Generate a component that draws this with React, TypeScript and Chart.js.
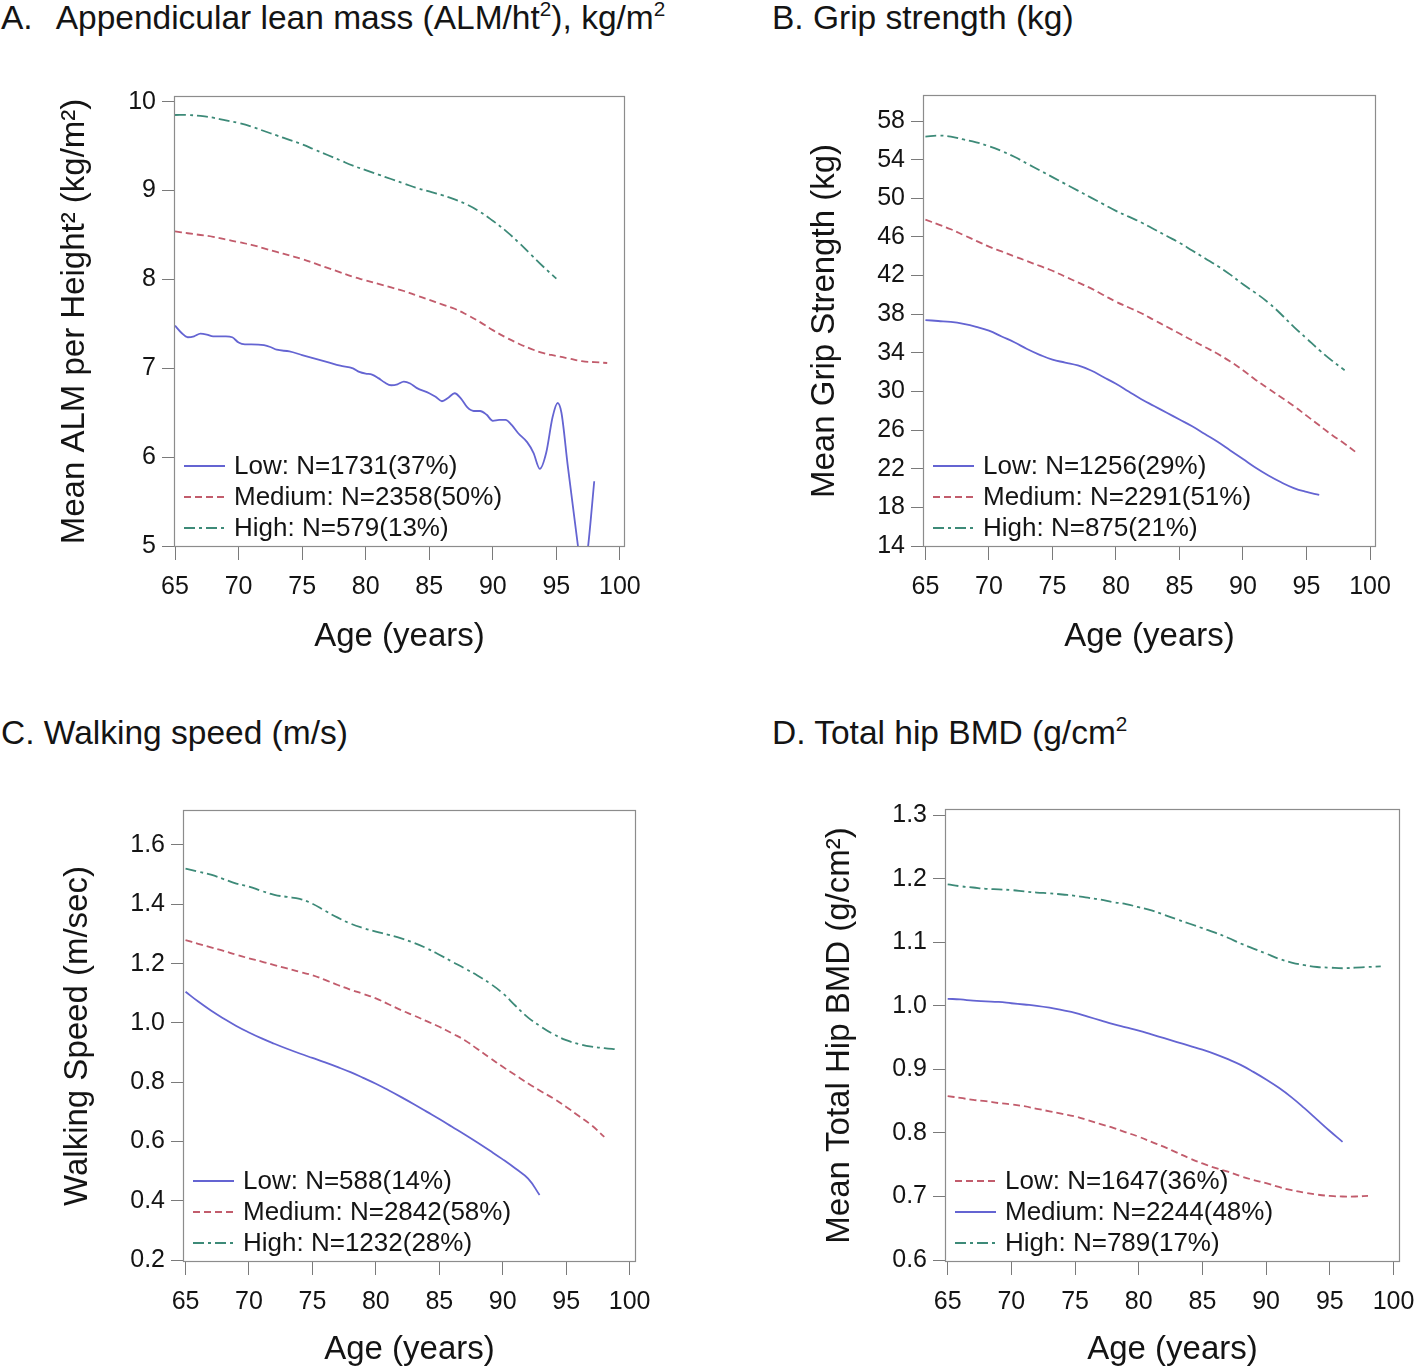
import React, { useEffect, useRef } from "react";
import { Chart, registerables } from "chart.js";

Chart.register(...registerables);

const FONT = '"Liberation Sans", Arial, Helvetica, sans-serif';
const INK = "#141414";

// ---------- shared axis ----------
const ageTicks = [65, 70, 75, 80, 85, 90, 95, 100];

// ---------- A. Appendicular lean mass ----------
const aYTicks = [5, 6, 7, 8, 9, 10];
const aLowAge = [65, 65.5, 66, 66.5, 67, 67.5, 68, 69, 69.5, 70, 70.5, 71, 72, 72.5, 73, 74, 75, 76, 77, 78, 79, 79.5, 80, 80.5, 81, 81.5, 82, 82.5, 83, 83.5, 84, 85, 85.5, 86, 86.5, 87, 87.5, 88, 88.5, 89, 89.5, 90, 90.5, 91, 91.5, 92, 92.7, 93.2, 93.7, 94.2, 94.7, 95.1, 95.4, 95.9, 96.7, 97.1, 97.5, 97.98];
const aLowVal = [7.48, 7.4, 7.35, 7.36, 7.39, 7.38, 7.36, 7.36, 7.35, 7.29, 7.27, 7.27, 7.26, 7.24, 7.21, 7.19, 7.15, 7.11, 7.07, 7.03, 7.0, 6.96, 6.94, 6.93, 6.89, 6.84, 6.81, 6.82, 6.85, 6.83, 6.78, 6.72, 6.68, 6.63, 6.67, 6.72, 6.66, 6.56, 6.52, 6.52, 6.48, 6.41, 6.42, 6.42, 6.36, 6.27, 6.17, 6.05, 5.87, 6.05, 6.45, 6.61, 6.5, 5.9, 5.0, 4.6, 5.0, 5.73];
const aMedAge = [65, 66, 67, 68, 69, 70, 71, 72, 73, 74, 75, 76, 77, 78, 79, 80, 81, 82, 83, 84, 85, 86, 87, 88, 89, 90, 91, 92, 93, 94, 95, 96, 97, 98, 99];
const aMedVal = [8.54, 8.52, 8.5, 8.48, 8.45, 8.42, 8.39, 8.35, 8.31, 8.27, 8.23, 8.18, 8.13, 8.08, 8.03, 7.99, 7.95, 7.91, 7.87, 7.82, 7.77, 7.72, 7.67, 7.6, 7.52, 7.43, 7.35, 7.28, 7.22, 7.17, 7.14, 7.11, 7.08, 7.07, 7.06];
const aHighAge = [65, 66, 67, 68, 69, 70, 71, 72, 73, 74, 75, 76, 77, 78, 79, 80, 81, 82, 83, 84, 85, 86, 87, 88, 89, 90, 91, 92, 93, 94, 95];
const aHighVal = [9.85, 9.85, 9.84, 9.82, 9.79, 9.76, 9.72, 9.67, 9.62, 9.57, 9.52, 9.46, 9.4, 9.34, 9.28, 9.23, 9.18, 9.13, 9.08, 9.03, 8.99, 8.95, 8.9, 8.84, 8.76, 8.66, 8.55, 8.42, 8.28, 8.14, 8.01];

// ---------- B. Grip strength ----------
const bYTicks = [14, 18, 22, 26, 30, 34, 38, 42, 46, 50, 54, 58];
const bLowAge = [65, 66, 67, 68, 69, 70, 71, 72, 73, 74, 75, 76, 77, 78, 79, 80, 81, 82, 83, 84, 85, 86, 87, 88, 89, 90, 91, 92, 93, 94, 95, 96];
const bLowVal = [37.4, 37.3, 37.2, 37.0, 36.7, 36.3, 35.7, 35.1, 34.4, 33.8, 33.3, 33.0, 32.7, 32.2, 31.5, 30.8, 30.0, 29.2, 28.5, 27.8, 27.1, 26.4, 25.6, 24.8, 23.9, 23.0, 22.1, 21.3, 20.6, 20.0, 19.6, 19.3];
const bMedAge = [65, 66, 67, 68, 69, 70, 71, 72, 73, 74, 75, 76, 77, 78, 79, 80, 81, 82, 83, 84, 85, 86, 87, 88, 89, 90, 91, 92, 93, 94, 95, 96, 97, 98, 99];
const bMedVal = [47.8, 47.3, 46.8, 46.2, 45.6, 45.0, 44.5, 44.0, 43.5, 43.0, 42.5, 41.9, 41.3, 40.7, 40.0, 39.3, 38.7, 38.1, 37.4, 36.7, 36.0, 35.3, 34.6, 33.9, 33.1, 32.2, 31.2, 30.3, 29.4, 28.5, 27.5, 26.5, 25.5, 24.6, 23.6];
const bHighAge = [65, 66, 67, 68, 69, 70, 71, 72, 73, 74, 75, 76, 77, 78, 79, 80, 81, 82, 83, 84, 85, 86, 87, 88, 89, 90, 91, 92, 93, 94, 95, 96, 97, 98];
const bHighVal = [56.4, 56.5, 56.4, 56.1, 55.8, 55.4, 54.9, 54.3, 53.6, 52.9, 52.2, 51.5, 50.8, 50.1, 49.4, 48.7, 48.1, 47.5, 46.8, 46.1, 45.4, 44.6, 43.8, 43.0, 42.1, 41.1, 40.2, 39.2, 38.0, 36.7, 35.5, 34.3, 33.2, 32.2];

// ---------- C. Walking speed ----------
const cYTicks = [0.2, 0.4, 0.6, 0.8, 1.0, 1.2, 1.4, 1.6];
const cLowAge = [65, 66, 67, 68, 69, 70, 71, 72, 73, 74, 75, 76, 77, 78, 79, 80, 81, 82, 83, 84, 85, 86, 87, 88, 89, 90, 91, 92, 92.9];
const cLowVal = [1.105, 1.072, 1.042, 1.015, 0.99, 0.968, 0.948, 0.93, 0.913, 0.897, 0.882, 0.867, 0.851, 0.834, 0.815, 0.795, 0.773, 0.75, 0.726, 0.701, 0.676, 0.65, 0.624, 0.597, 0.569, 0.54, 0.509, 0.475, 0.42];
const cMedAge = [65, 66, 67, 68, 69, 70, 71, 72, 73, 74, 75, 76, 77, 78, 79, 80, 81, 82, 83, 84, 85, 86, 87, 88, 89, 90, 91, 92, 93, 94, 95, 96, 97, 98];
const cMedVal = [1.279, 1.267, 1.255, 1.243, 1.23, 1.218, 1.207, 1.195, 1.184, 1.172, 1.161, 1.145, 1.128, 1.112, 1.098, 1.083, 1.063, 1.043, 1.025, 1.006, 0.987, 0.965, 0.942, 0.912, 0.882, 0.852, 0.824, 0.796, 0.77, 0.745, 0.717, 0.686, 0.655, 0.616];
const cHighAge = [65, 66, 67, 68, 69, 70, 71, 72, 73, 74, 75, 76, 77, 78, 79, 80, 81, 82, 83, 84, 85, 86, 87, 88, 89, 90, 91, 92, 93, 94, 95, 96, 97, 98, 99];
const cHighVal = [1.52, 1.51, 1.5, 1.485, 1.47, 1.46, 1.445, 1.432, 1.425, 1.418, 1.402, 1.378, 1.355, 1.335, 1.32, 1.308, 1.297, 1.285, 1.27, 1.252, 1.23, 1.207, 1.184, 1.16, 1.133, 1.1, 1.058, 1.018, 0.988, 0.962, 0.942, 0.929, 0.92, 0.915, 0.911];

// ---------- D. Total hip BMD ----------
const dYTicks = [0.6, 0.7, 0.8, 0.9, 1.0, 1.1, 1.2, 1.3];
const dLowAge = [65, 66, 67, 68, 69, 70, 71, 72, 73, 74, 75, 76, 77, 78, 79, 80, 81, 82, 83, 84, 85, 86, 87, 88, 89, 90, 91, 92, 93, 94, 95, 96, 97, 98];
const dLowVal = [0.858, 0.855, 0.852, 0.85, 0.847, 0.845, 0.842, 0.838, 0.834, 0.83, 0.826, 0.82, 0.814, 0.808, 0.801, 0.794, 0.786, 0.778, 0.769, 0.76, 0.752, 0.745, 0.739, 0.732, 0.726, 0.721, 0.715, 0.71, 0.706, 0.703, 0.701, 0.7, 0.7, 0.701];
const dMedAge = [65, 66, 67, 68, 69, 70, 71, 72, 73, 74, 75, 76, 77, 78, 79, 80, 81, 82, 83, 84, 85, 86, 87, 88, 89, 90, 91, 92, 93, 94, 95, 96];
const dMedVal = [1.011, 1.01, 1.008, 1.007, 1.006, 1.004, 1.002, 1.0, 0.997, 0.993, 0.989, 0.983, 0.977, 0.971, 0.966, 0.961, 0.955, 0.949, 0.943, 0.937, 0.931, 0.924, 0.916, 0.907, 0.896, 0.884, 0.871, 0.856, 0.839, 0.821, 0.803, 0.786];
const dHighAge = [65, 66, 67, 68, 69, 70, 71, 72, 73, 74, 75, 76, 77, 78, 79, 80, 81, 82, 83, 84, 85, 86, 87, 88, 89, 90, 91, 92, 93, 94, 95, 96, 97, 98, 99];
const dHighVal = [1.191, 1.188, 1.186, 1.184, 1.183, 1.182, 1.18, 1.178, 1.177, 1.175, 1.173, 1.17, 1.167, 1.163, 1.16, 1.155, 1.15, 1.143, 1.136, 1.129, 1.122, 1.115, 1.107, 1.098, 1.09, 1.082, 1.074, 1.068, 1.064, 1.061, 1.06, 1.059, 1.06, 1.061, 1.062];

// ---------- styles ----------
const BLUE = "#6464d2";
const RED = "#c25c6c";
const TEAL = "#3d8a78";
const STYLE: Record<string, { color: string; dash: number[] }> = {
  solid: { color: BLUE, dash: [] },
  dash: { color: RED, dash: [7, 4] },
  dashdot: { color: TEAL, dash: [11, 4, 3, 4] },
};

type Series = { label: string; ages: number[]; vals: number[]; style: string; wiggly?: boolean };
type Panel = {
  id: string;
  canvas: { left: number; top: number; w: number; h: number };
  area: { L: number; R: number; T: number; B: number };
  xMin: number; xMax: number; yMin: number; yMax: number;
  yTicks: number[]; yDec: number; yTitle: string; yTitleX: number; xTitleCenter: number;
  series: Series[];
};

const panels: Panel[] = [
  {
    id: "A", canvas: { left: 0, top: 50, w: 709, h: 630 }, area: { L: 174, R: 625, T: 96, B: 547 },
    xMin: 64.92, xMax: 100.4, yMin: 4.99, yMax: 10.064, yTicks: aYTicks, yDec: 0,
    yTitle: "Mean ALM per Height\u00b2 (kg/m\u00b2)", yTitleX: 75, xTitleCenter: 637,
    series: [
      { label: "Low: N=1731(37%)", ages: aLowAge, vals: aLowVal, style: "solid", wiggly: true },
      { label: "Medium: N=2358(50%)", ages: aMedAge, vals: aMedVal, style: "dash" },
      { label: "High: N=579(13%)", ages: aHighAge, vals: aHighVal, style: "dashdot" },
    ],
  },
  {
    id: "B", canvas: { left: 709, top: 50, w: 760, h: 630 }, area: { L: 923, R: 1376, T: 95, B: 547 },
    xMin: 64.81, xMax: 100.47, yMin: 13.9, yMax: 60.7, yTicks: bYTicks, yDec: 0,
    yTitle: "Mean Grip Strength (kg)", yTitleX: 825, xTitleCenter: 637,
    series: [
      { label: "Low: N=1256(29%)", ages: bLowAge, vals: bLowVal, style: "solid" },
      { label: "Medium: N=2291(51%)", ages: bMedAge, vals: bMedVal, style: "dash" },
      { label: "High: N=875(21%)", ages: bHighAge, vals: bHighVal, style: "dashdot" },
    ],
  },
  {
    id: "C", canvas: { left: 0, top: 760, w: 709, h: 610 }, area: { L: 183, R: 636, T: 810, B: 1262 },
    xMin: 64.8, xMax: 100.5, yMin: 0.194, yMax: 1.718, yTicks: cYTicks, yDec: 1,
    yTitle: "Walking Speed (m/sec)", yTitleX: 78, xTitleCenter: 1350,
    series: [
      { label: "Low: N=588(14%)", ages: cLowAge, vals: cLowVal, style: "solid" },
      { label: "Medium: N=2842(58%)", ages: cMedAge, vals: cMedVal, style: "dash" },
      { label: "High: N=1232(28%)", ages: cHighAge, vals: cHighVal, style: "dashdot" },
    ],
  },
  {
    id: "D", canvas: { left: 709, top: 760, w: 760, h: 610 }, area: { L: 945, R: 1400, T: 809, B: 1262 },
    xMin: 64.79, xMax: 100.51, yMin: 0.597, yMax: 1.3095, yTicks: dYTicks, yDec: 1,
    yTitle: "Mean Total Hip BMD (g/cm\u00b2)", yTitleX: 840, xTitleCenter: 1350,
    series: [
      { label: "Low: N=1647(36%)", ages: dLowAge, vals: dLowVal, style: "dash" },
      { label: "Medium: N=2244(48%)", ages: dMedAge, vals: dMedVal, style: "solid" },
      { label: "High: N=789(17%)", ages: dHighAge, vals: dHighVal, style: "dashdot" },
    ],
  },
];

const framePlugin = {
  id: "frame",
  afterDatasetsDraw(chart: any) {
    const { ctx, chartArea: a } = chart;
    ctx.save();
    ctx.strokeStyle = "#8c8c8c";
    ctx.lineWidth = 1.2;
    ctx.setLineDash([]);
    ctx.strokeRect(a.left + 0.5, a.top + 0.5, a.right - a.left - 1, a.bottom - a.top - 1);
    ctx.restore();
  },
};

const legendPlugin = {
  id: "inlegend",
  afterDraw(chart: any) {
    const { ctx, chartArea: a } = chart;
    const offs = [81, 50, 19];
    ctx.save();
    chart.data.datasets.forEach((ds: any, i: number) => {
      const y = a.bottom - offs[i];
      ctx.strokeStyle = ds.borderColor;
      ctx.lineWidth = ds.borderWidth;
      ctx.setLineDash(ds.borderDash || []);
      ctx.beginPath();
      ctx.moveTo(a.left + 10, y);
      ctx.lineTo(a.left + 51, y);
      ctx.stroke();
      ctx.setLineDash([]);
      ctx.fillStyle = INK;
      ctx.font = `26px ${FONT}`;
      ctx.textBaseline = "middle";
      ctx.textAlign = "left";
      ctx.fillText(ds.label, a.left + 60, y + 1);
    });
    ctx.restore();
  },
};

function PanelChart({ p }: { p: Panel }) {
  const ref = useRef<HTMLCanvasElement>(null);
  useEffect(() => {
    if (!ref.current) return;
    const { canvas: c, area } = p;
    const datasets = p.series.map((s) => ({
      label: s.label,
      data: s.ages.map((a, i) => ({ x: a, y: s.vals[i] })),
      borderColor: STYLE[s.style].color,
      borderDash: STYLE[s.style].dash,
      borderWidth: 1.8,
      pointRadius: 0,
      fill: false,
      ...(s.wiggly ? { cubicInterpolationMode: "monotone" as const } : { tension: 0.45 }),
    }));
    const titleLH = 33 * 1.2;
    const chart = new Chart(ref.current, {
      type: "line",
      data: { datasets },
      options: {
        animation: false,
        responsive: false,
        maintainAspectRatio: false,
        layout: { padding: { left: 0, top: area.T - c.top, right: c.left + c.w - area.R, bottom: 0 } },
        plugins: { legend: { display: false }, tooltip: { enabled: false }, title: { display: false } },
        scales: {
          x: {
            type: "linear",
            min: p.xMin,
            max: p.xMax,
            afterBuildTicks: (s: any) => { s.ticks = ageTicks.map((v) => ({ value: v })); },
            afterFit: (s: any) => { s.height = c.top + c.h - area.B; },
            ticks: { font: { family: FONT, size: 25 }, color: INK, padding: 12, autoSkip: false, maxRotation: 0, callback: (v: any) => String(v) },
            grid: { drawOnChartArea: false, drawTicks: true, tickLength: 13, color: "#7a7a7a", tickColor: "#7a7a7a" },
            border: { display: false },
            title: {
              display: true, text: "Age (years)", color: INK, font: { family: FONT, size: 33 },
              padding: { top: 0, bottom: Math.max(0, c.top + c.h - p.xTitleCenter - titleLH / 2) },
            },
          },
          y: {
            type: "linear",
            min: p.yMin,
            max: p.yMax,
            afterBuildTicks: (s: any) => { s.ticks = p.yTicks.map((v) => ({ value: v })); },
            afterFit: (s: any) => { s.width = area.L - c.left; },
            ticks: { font: { family: FONT, size: 25 }, color: INK, padding: 6, autoSkip: false, callback: (v: any) => Number(v).toFixed(p.yDec) },
            grid: { drawOnChartArea: false, drawTicks: true, tickLength: 12, color: "#7a7a7a", tickColor: "#7a7a7a" },
            border: { display: false },
            title: {
              display: true, text: p.yTitle, color: INK, font: { family: FONT, size: 33 },
              padding: { top: p.yTitleX - c.left - titleLH / 2, bottom: 0 },
            },
          },
        },
      } as any,
      plugins: [framePlugin, legendPlugin],
    });
    return () => chart.destroy();
  }, [p]);
  const { canvas: c } = p;
  return (
    <canvas
      ref={ref}
      width={c.w}
      height={c.h}
      style={{ position: "absolute", left: c.left, top: c.top, width: c.w, height: c.h }}
    />
  );
}

const titleStyle: React.CSSProperties = {
  position: "absolute",
  fontFamily: FONT,
  fontSize: 33.5,
  lineHeight: "33px",
  color: INK,
  whiteSpace: "pre",
};
const supStyle: React.CSSProperties = { fontSize: "0.62em", verticalAlign: "0.62em", lineHeight: 0 };

export default function App() {
  useEffect(() => {
    document.body.style.margin = "0";
    document.body.style.overflow = "hidden";
    document.body.style.background = "#fff";
  }, []);
  return (
    <div style={{ position: "relative", width: 1418, height: 1370, background: "#fff", overflow: "hidden" }}>
      <div style={{ ...titleStyle, left: 1, top: 1 }}>
        {"A."}<span style={{ marginLeft: 23 }}>{"Appendicular lean mass (ALM/ht"}</span><span style={supStyle}>2</span>{"), kg/m"}<span style={supStyle}>2</span>
      </div>
      <div style={{ ...titleStyle, left: 772, top: 1 }}>B. Grip strength (kg)</div>
      <div style={{ ...titleStyle, left: 1, top: 716 }}>C. Walking speed (m/s)</div>
      <div style={{ ...titleStyle, left: 772, top: 716 }}>
        {"D. Total hip BMD (g/cm"}<span style={supStyle}>2</span>
      </div>
      {panels.map((p) => (
        <PanelChart key={p.id} p={p} />
      ))}
    </div>
  );
}
